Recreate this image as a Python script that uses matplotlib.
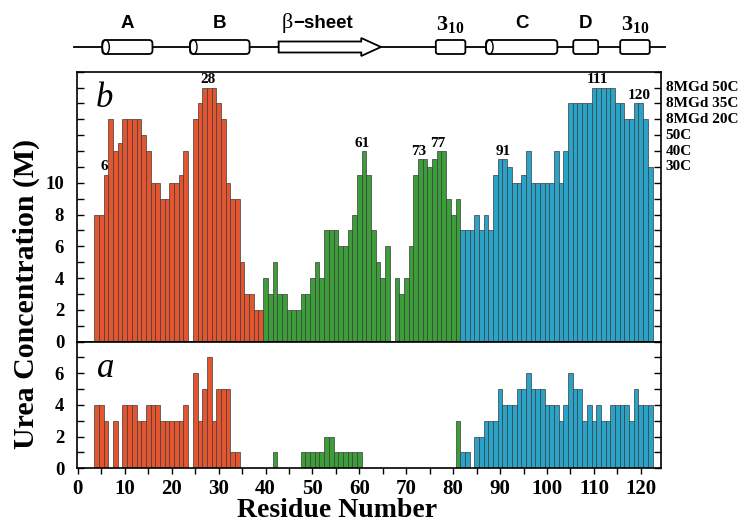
import matplotlib
matplotlib.use("Agg")
import matplotlib.pyplot as plt
from matplotlib.patches import FancyBboxPatch, Ellipse, Polygon
from matplotlib.ticker import MultipleLocator

plt.rcParams['font.family'] = ['Liberation Serif', 'DejaVu Serif']
plt.rcParams['font.weight'] = 'bold'
plt.rcParams['mathtext.fontset'] = 'custom'
plt.rcParams['mathtext.rm'] = 'Liberation Serif'

# ---------------------------------------------------------------- data
residues = list(range(4, 123))

# b: highest denaturing condition at which each amide stays protected
urea_b = [8, 8, 10.5, 14, 12, 12.5, 14, 14, 14, 14, 13, 12, 10, 10, 9, 9, 10, 10, 10.5, 12,   # 4-23
          0, 14, 15, 16, 16, 16, 15, 14, 10, 9, 9, 5, 3, 3, 2, 2,                          # 24-39
          4, 3, 5, 3, 3, 2, 2, 2, 3, 3, 4, 5, 4, 7, 7, 7, 6, 6, 7, 8, 10.5, 12, 10.5,      # 40-62
          7, 5, 4, 6,                                                                      # 63-66
          0, 4, 3, 4, 6, 10.5, 11.5, 11.5, 11, 11.5, 12, 12, 9, 8, 9,                      # 67-81
          7, 7, 7, 8, 7, 8, 7, 10.5, 11.5, 11.5, 11, 10, 10, 10.5, 12, 10, 10, 10, 10, 10, # 82-101
          12, 10, 12, 15, 15, 15, 15, 15, 16, 16, 16, 16, 16, 15, 15, 14, 14, 15, 15, 14, 11]  # 102-122

# a: urea concentration (M) for the native-state experiment
urea_a = [4, 4, 3, 0, 3, 0, 4, 4, 4, 3, 3, 4, 4, 4, 3, 3, 3, 3, 3, 4,        # 4-23
          0, 6, 3, 5, 7, 3, 5, 5, 5, 1, 1, 0, 0, 0, 0, 0,                    # 24-39
          0, 0, 1, 0, 0, 0, 0, 0, 1, 1, 1, 1, 1, 2, 2, 1, 1, 1, 1, 1, 1,     # 40-60
          0, 0, 0, 0, 0, 0,                                                  # 61-66
          0, 0, 0, 0, 0, 0, 0, 0, 0, 0, 0, 0, 0, 0, 3,                       # 67-81
          1, 1, 0, 2, 2, 3, 3, 3, 5, 4, 4, 4, 5, 5, 6, 5, 5, 5, 4, 4,        # 82-101
          4, 3, 4, 6, 5, 5, 3, 4, 3, 4, 3, 3, 4, 4, 4, 4, 3, 5, 4, 4, 4]     # 102-122

region_starts = [4, 40, 82]
region_colors = ['#E4542F', '#3C9E38', '#2AA3C8']

peak_labels = [6, 28, 61, 73, 77, 91, 111, 120]

level_values = [11, 12, 13, 14, 15, 16]
level_names = ['30C', '40C', '50C', '8MGd 20C', '8MGd 35C', '8MGd 50C']

# secondary structure elements (residue ranges)
cylinders = [('A', 5.2, 15.9), ('B', 23.9, 36.6), ('C', 87.0, 102.2)]
boxes = [(r'$\mathrm{3_{10}}$', 76.3, 82.6), ('D', 105.6, 110.9),
         (r'$\mathrm{3_{10}}$', 115.6, 121.9)]
strand = (42.8, 60.4, 64.6)   # start, arrow-head start, tip
backbone = (-0.8, 125.2)


def region_color(r):
    idx = sum(r >= s for s in region_starts) - 1
    return region_colors[idx]


# ---------------------------------------------------------------- layout
W, H = 740, 523
fig = plt.figure(figsize=(W / 100, H / 100), dpi=100)
left, right = 76.7 / W, 661 / W
b_top, b_bot, a_bot = 71.7, 341.5, 468.3
ax_b = fig.add_axes([left, 1 - b_bot / H, right - left, (b_bot - b_top) / H])
ax_a = fig.add_axes([left, 1 - a_bot / H, right - left, (a_bot - b_bot) / H])
ax_s = fig.add_axes([left, 1 - 62 / H, right - left, 54 / H])

xlim = (-0.25, 124.3)

for ax, vals in ((ax_b, urea_b), (ax_a, urea_a)):
    xs = [r for r, v in zip(residues, vals) if v > 0]
    hs = [v for v in vals if v > 0]
    ax.bar(xs, hs, width=1.0, color=[region_color(r) for r in xs],
           edgecolor='#3b3b3b', linewidth=0.5, zorder=2)
    ax.set_xlim(*xlim)
    ax.yaxis.set_minor_locator(MultipleLocator(1))
    ax.tick_params(axis='y', which='both', direction='in', length=5, width=1,
                   left=True, right=True, labelsize=13.5, pad=9)
    for s in ax.spines.values():
        s.set_linewidth(1.2)
        s.set_zorder(3)

ax_b.set_ylim(0, 17)
ax_b.set_yticks([0, 2, 4, 6, 8, 10])
ax_b.tick_params(axis='x', which='both', bottom=False, top=False, labelbottom=False)

ax_a.set_ylim(0, 8)
ax_a.set_yticks([0, 2, 4, 6])
ax_a.xaxis.set_major_locator(MultipleLocator(10))
ax_a.xaxis.set_minor_locator(MultipleLocator(5))
ax_a.tick_params(axis='x', which='both', direction='out', length=4, width=1,
                 top=False, labelsize=15, pad=4)

# residue labels over the most protected sites
for r in peak_labels:
    v = urea_b[residues.index(r)]
    ax_b.annotate(str(r), (r - 0.3, v), xytext=(0, 1), textcoords='offset points',
                  ha='center', va='bottom', fontsize=11)

# names of the conditions above 10 M
for v, name in zip(level_values, level_names):
    ax_b.text(1.008, v, name, transform=ax_b.get_yaxis_transform(),
              ha='left', va='center', fontsize=11)

ax_b.text(0.048, 0.870, 'b', transform=ax_b.transAxes, ha='center', va='baseline',
          fontsize=25, style='italic', weight='normal')
ax_a.text(0.050, 0.718, 'a', transform=ax_a.transAxes, ha='center', va='baseline',
          fontsize=25, style='italic', weight='normal')

fig.text(0.036, 0.438, 'Urea Concentration (M)', rotation=90, ha='center',
         va='center', fontsize=21.5)
fig.text(0.455, 0.024, 'Residue Number', ha='center', va='center', fontsize=20)

# ---------------------------------------------------------------- secondary structure
ax_s.set_xlim(*xlim)
ax_s.set_ylim(0, 1)
ax_s.axis('off')
yl = 15 / 54          # backbone height in axes units
hh = 14 / 54          # cylinder height
px_x = (xlim[1] - xlim[0]) / (right - left) / W   # residues per pixel
px_y = 1 / 54
aspect = px_y / px_x
lw = 1.3

ax_s.plot(backbone, [yl, yl], color='black', lw=lw, clip_on=False, zorder=1)

for name, x0, x1 in cylinders:
    ax_s.add_patch(FancyBboxPatch((x0, yl - hh / 2), x1 - x0, hh,
                                  boxstyle='round,pad=0,rounding_size=0.75',
                                  mutation_aspect=aspect, fc='white', ec='black',
                                  lw=lw, zorder=2, clip_on=False))
    ax_s.add_patch(Ellipse((x0 + 0.75, yl), 1.5, hh, fc='none', ec='black',
                           lw=lw * 0.8, zorder=3, clip_on=False))
    ax_s.text((x0 + x1) / 2, 0.72, name, ha='center', va='center', fontsize=13.5,
              family='Liberation Sans', weight='bold')

for name, x0, x1 in boxes:
    ax_s.add_patch(FancyBboxPatch((x0, yl - hh / 2), x1 - x0, hh,
                                  boxstyle='round,pad=0,rounding_size=0.5',
                                  mutation_aspect=aspect, fc='white', ec='black',
                                  lw=lw, zorder=2, clip_on=False))
    if name == 'D':
        ax_s.text((x0 + x1) / 2, 0.72, name, ha='center', va='center', fontsize=13.5,
                  family='Liberation Sans', weight='bold')
    else:
        ax_s.text((x0 + x1) / 2, 0.70, name, ha='center', va='center', fontsize=16)

s0, sh0, s1 = strand
shaft, head = 11 / 54, 18 / 54
ax_s.add_patch(Polygon([(s0, yl - shaft / 2), (sh0, yl - shaft / 2), (sh0, yl - head / 2),
                        (s1, yl), (sh0, yl + head / 2), (sh0, yl + shaft / 2),
                        (s0, yl + shaft / 2)], closed=True, fc='white', ec='black',
                       lw=lw, zorder=2, clip_on=False))
ax_s.text(45.9, 0.72, 'β', ha='right', va='center', fontsize=16, weight='normal')
ax_s.text(45.9, 0.72, '−sheet', ha='left', va='center', fontsize=13.5,
          family='Liberation Sans', weight='bold')

fig.savefig('out.png', dpi=100)
